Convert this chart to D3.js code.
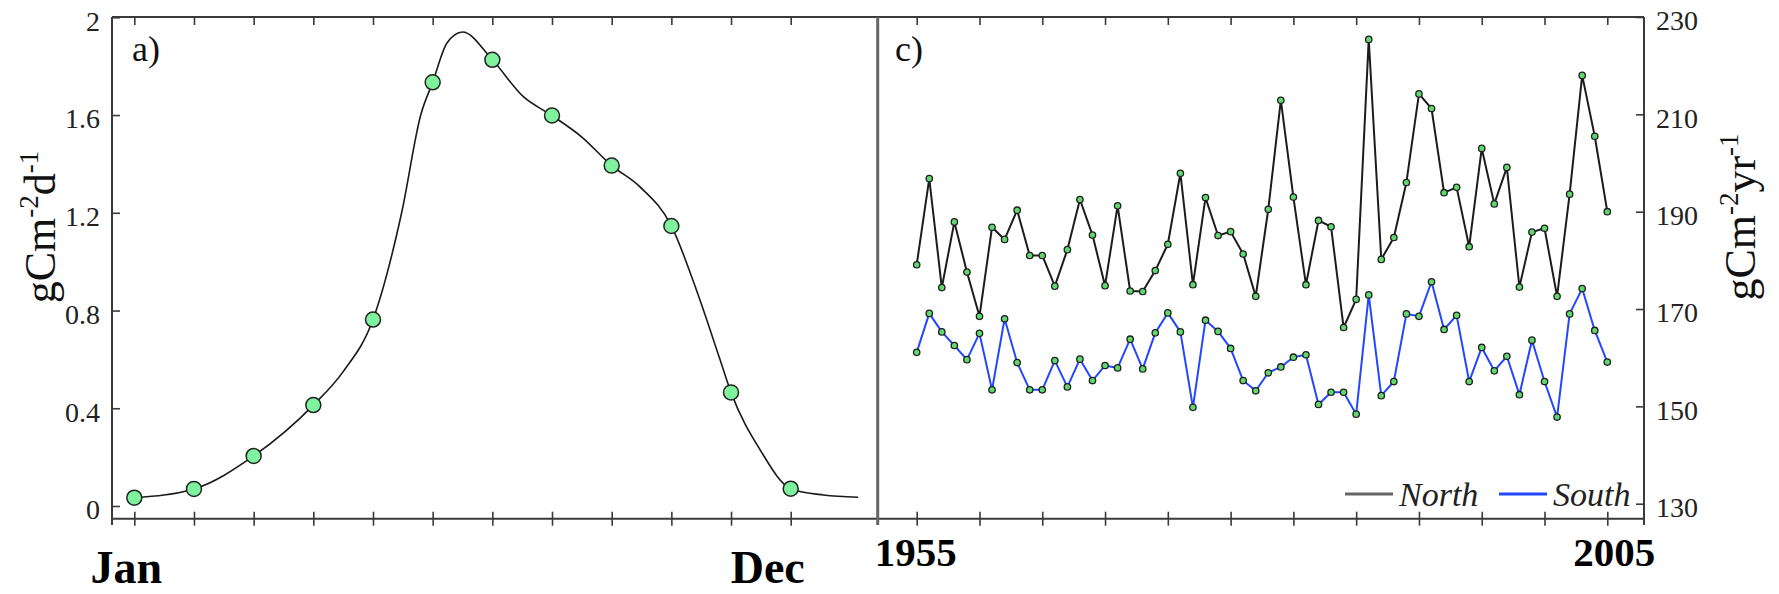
<!DOCTYPE html>
<html>
<head>
<meta charset="utf-8">
<title>Seasonal and interannual production</title>
<script src="https://cdn.jsdelivr.net/npm/d3@7"></script>
<style>
  html, body { margin: 0; padding: 0; background: #fff; }
  svg { display: block; font-family: "Liberation Serif", "Times New Roman", serif; }
</style>
</head>
<body>
<div id="chart"></div>
<script>
// --- Panel a: monthly climatology (gCm-2d-1) ---
const months = [1, 2, 3, 4, 5, 6, 7, 8, 9, 10, 11, 12];
const monthlyValues = [0.034, 0.07, 0.205, 0.413, 0.763, 1.734, 1.826, 1.598, 1.393, 1.146, 0.465, 0.071];
// smooth curve traced through the plotted points
const curveMonths = [1, 2, 3, 4, 4.5, 5, 5.48, 5.8, 6, 6.24, 6.5, 7, 7.52, 8, 8.5, 9, 9.47, 10, 10.42, 10.8, 11, 11.49, 12, 12.55, 13.13];
const curveValues = [0.034, 0.07, 0.205, 0.413, 0.55, 0.763, 1.2, 1.6, 1.734, 1.895, 1.94, 1.826, 1.675, 1.598, 1.51, 1.393, 1.307, 1.146, 0.884, 0.611, 0.465, 0.229, 0.071, 0.045, 0.036];
const leftTicks = [0, 0.4, 0.8, 1.2, 1.6, 2];
const monthLabels = ['Jan', 'Dec'];

// --- Panel c: annual totals (gCm-2yr-1), 56 years ---
const northValues = [
  179.1, 196.8, 174.4, 187.9, 177.6, 168.5, 186.8, 184.3, 190.3, 181.0,
  181.0, 174.7, 182.2, 192.5, 185.2, 174.8, 191.2, 173.7, 173.6, 177.9,
  183.3, 197.9, 175.0, 192.9, 185.1, 185.9, 181.3, 172.6, 190.5, 212.9,
  193.0, 175.0, 188.2, 186.9, 166.2, 172.0, 225.4, 180.2, 184.7, 196.0,
  214.2, 211.2, 193.9, 195.0, 182.8, 203.0, 191.6, 199.1, 174.5, 185.8,
  186.6, 172.6, 193.6, 218.0, 205.5, 190.0
];
const southValues = [
  161.1, 169.1, 165.3, 162.5, 159.6, 165.0, 153.4, 168.0, 159.0, 153.4,
  153.4, 159.4, 154.0, 159.7, 155.3, 158.4, 157.9, 163.8, 157.7, 165.1,
  169.2, 165.3, 149.8, 167.7, 165.4, 161.9, 155.3, 153.2, 156.9, 158.1,
  160.1, 160.6, 150.4, 152.9, 152.9, 148.4, 172.9, 152.2, 155.1, 169.0,
  168.5, 175.6, 165.8, 168.7, 155.1, 162.1, 157.3, 160.3, 152.4, 163.6,
  155.1, 147.8, 169.0, 174.2, 165.6, 159.1
];
const rightTicks = [130, 150, 170, 190, 210, 230];
const yearLabels = ['1955', '2005'];
const seriesNames = ['North', 'South'];

// --- Layout ---
const width = 1779;
const height = 594;
const plotTop = 17;
const plotBottom = 518.7;
const leftEdge = 112;
const divider = 877.7;
const rightEdge = 1644;
const frameColor = '#3a3a3a';
const northColor = '#1c1c1c';
const southColor = '#2347ff';

const svg = d3.select('#chart')
  .append('svg')
  .attr('width', width)
  .attr('height', height)
  .attr('viewBox', `0 0 ${width} ${height}`);

svg.append('rect').attr('width', width).attr('height', height).attr('fill', '#fff');

// --- Scales ---
const xMonth = d3.scaleLinear().domain([1, 12]).range([134.3, 790.7]);
const yLeft = d3.scaleLinear().domain([0, 2]).range([506, 17.3]);
const xYear = d3.scaleLinear().domain([0, northValues.length - 1]).range([916.7, 1607.3]);
const yRight = d3.scaleLinear().domain([130, 230]).range([503.7, 17]);

// --- Frame ---
const frame = svg.append('g').attr('stroke', frameColor).attr('stroke-width', 2);
frame.append('line').attr('x1', leftEdge).attr('x2', rightEdge).attr('y1', plotTop).attr('y2', plotTop);
frame.append('line').attr('x1', leftEdge).attr('x2', rightEdge).attr('y1', plotBottom).attr('y2', plotBottom);
frame.append('line').attr('x1', leftEdge).attr('x2', leftEdge).attr('y1', plotTop).attr('y2', 525);
frame.append('line').attr('x1', rightEdge).attr('x2', rightEdge).attr('y1', plotTop).attr('y2', 525);
svg.append('line')
  .attr('x1', divider).attr('x2', divider).attr('y1', plotTop).attr('y2', 525)
  .attr('stroke', '#666').attr('stroke-width', 3);

function styleAxis(g) {
  g.select('.domain').remove();
  g.selectAll('.tick line').attr('stroke', frameColor).attr('stroke-width', 1.6);
  g.selectAll('.tick text')
    .attr('fill', '#222')
    .attr('font-size', 28)
    .attr('font-family', '"Liberation Serif", "Times New Roman", serif')
    .attr('dy', '0.46em');
}

// --- Axes: panel a ---
svg.append('g')
  .attr('transform', `translate(${leftEdge},0)`)
  .call(d3.axisLeft(yLeft).tickValues(leftTicks).tickSize(-8).tickPadding(12).tickFormat(d3.format('')))
  .call(styleAxis);

svg.append('g')
  .attr('transform', `translate(0,${plotBottom})`)
  .call(d3.axisBottom(xMonth).tickValues(months).tickSize(7).tickFormat(''))
  .call(styleAxis)
  .call(g => g.selectAll('.tick line').attr('y1', -7));

svg.append('g')
  .attr('transform', `translate(0,${plotTop})`)
  .call(d3.axisTop(xMonth).tickValues(months).tickSize(-8).tickFormat(''))
  .call(styleAxis);

// --- Axes: panel c ---
const yearTicks = d3.range(0, northValues.length, 5);

svg.append('g')
  .attr('transform', `translate(${rightEdge},0)`)
  .call(d3.axisRight(yRight).tickValues(rightTicks).tickSize(-8).tickPadding(12))
  .call(styleAxis);

svg.append('g')
  .attr('transform', `translate(0,${plotBottom})`)
  .call(d3.axisBottom(xYear).tickValues(yearTicks).tickSize(7).tickFormat(''))
  .call(styleAxis)
  .call(g => g.selectAll('.tick line').attr('y1', -7));

svg.append('g')
  .attr('transform', `translate(0,${plotTop})`)
  .call(d3.axisTop(xYear).tickValues(yearTicks).tickSize(-8).tickFormat(''))
  .call(styleAxis);

// --- Bold end labels under the axes ---
const endLabels = svg.append('g')
  .attr('font-weight', 'bold')
  .attr('fill', '#000');

endLabels.selectAll('.month-label')
  .data([[monthLabels[0], xMonth(months[0]) - 8], [monthLabels[1], xMonth(months[11]) - 23]])
  .enter()
  .append('text')
  .attr('class', 'month-label')
  .attr('x', d => d[1])
  .attr('y', 583)
  .attr('text-anchor', 'middle')
  .attr('font-size', 46)
  .text(d => d[0]);

endLabels.selectAll('.year-label')
  .data([[yearLabels[0], xYear(0) - 1], [yearLabels[1], xYear(northValues.length - 1) + 7]])
  .enter()
  .append('text')
  .attr('class', 'year-label')
  .attr('x', d => d[1])
  .attr('y', 566)
  .attr('text-anchor', 'middle')
  .attr('font-size', 41)
  .text(d => d[0]);

// --- Y axis titles (rotated) ---
function unitLabel(x, y, parts) {
  const t = svg.append('text')
    .attr('transform', `translate(${x},${y}) rotate(-90)`)
    .attr('text-anchor', 'middle')
    .attr('font-size', 44)
    .attr('fill', '#111');
  parts.forEach(([txt, sup]) => {
    t.append('tspan')
      .attr('font-size', sup ? 27 : 44)
      .attr('dy', sup ? -17 : 17)
      .text(txt);
  });
  // first part has no preceding superscript
  t.select('tspan').attr('dy', 0);
}
unitLabel(55, 227, [['gCm', false], ['-2', true], ['d', false], ['-1', true]]);
unitLabel(1755, 217, [['gCm', false], ['-2', true], ['yr', false], ['-1', true]]);

// --- Panel letters ---
svg.append('text').attr('x', 132).attr('y', 61).attr('font-size', 36).attr('fill', '#111').text('a)');
svg.append('text').attr('x', 895).attr('y', 61).attr('font-size', 36).attr('fill', '#111').text('c)');

// --- Panel a: curve and points ---
const curveLine = d3.line()
  .x((d, i) => xMonth(curveMonths[i]))
  .y(d => yLeft(d))
  .curve(d3.curveMonotoneX);

svg.append('path')
  .datum(curveValues)
  .attr('d', curveLine)
  .attr('fill', 'none')
  .attr('stroke', '#1a1a1a')
  .attr('stroke-width', 1.6);

svg.selectAll('.month-dot')
  .data(monthlyValues)
  .enter()
  .append('circle')
  .attr('class', 'month-dot')
  .attr('cx', (d, i) => xMonth(months[i]))
  .attr('cy', d => yLeft(d))
  .attr('r', 7.5)
  .attr('fill', '#7ef29c')
  .attr('stroke', '#222')
  .attr('stroke-width', 1.5);

// --- Panel c: series ---
const yearLine = d3.line()
  .x((d, i) => xYear(i))
  .y(d => yRight(d));

[[northValues, northColor], [southValues, southColor]].forEach(([values, color]) => {
  svg.append('path')
    .datum(values)
    .attr('d', yearLine)
    .attr('fill', 'none')
    .attr('stroke', color)
    .attr('stroke-width', 2)
    .attr('stroke-linejoin', 'round');

  svg.append('g')
    .selectAll('circle')
    .data(values)
    .enter()
    .append('circle')
    .attr('cx', (d, i) => xYear(i))
    .attr('cy', d => yRight(d))
    .attr('r', 3.2)
    .attr('fill', '#5fd86e')
    .attr('stroke', '#1e1e1e')
    .attr('stroke-width', 1.3);
});

// --- Legend ---
const legend = svg.append('g').attr('font-style', 'italic').attr('font-size', 34).attr('fill', '#222');
[[seriesNames[0], '#666', 1345], [seriesNames[1], southColor, 1499]].forEach(([name, color, x0]) => {
  legend.append('line')
    .attr('x1', x0).attr('x2', x0 + 48)
    .attr('y1', 494).attr('y2', 494)
    .attr('stroke', color).attr('stroke-width', 3);
  legend.append('text')
    .attr('x', x0 + 54)
    .attr('y', 506)
    .text(name);
});
</script>
</body>
</html>
